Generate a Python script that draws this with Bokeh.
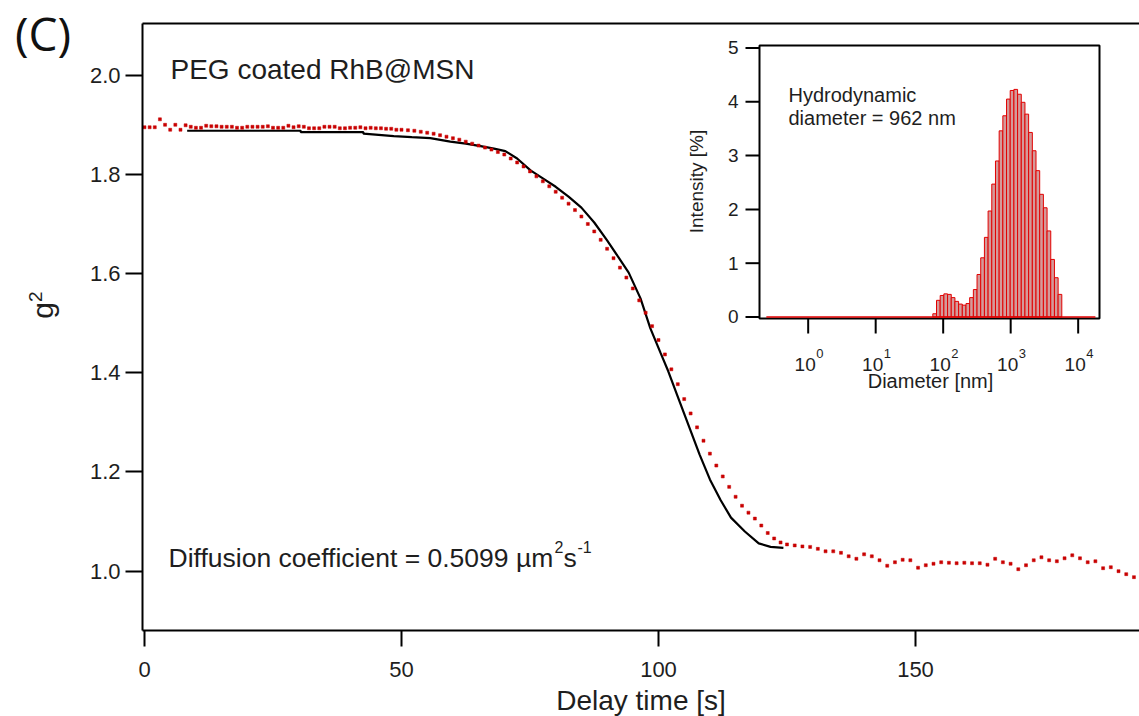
from math import pi, log10
from bokeh.plotting import figure
from bokeh.layouts import column
from bokeh.models import (Range1d, LinearAxis, FixedTicker, Label, PrintfTickFormatter,
                          LogScale, Div)
from bokeh.embed import file_html
from bokeh.resources import INLINE

# ---------------- main panel data: g2 vs delay time ----------------
delay_meas = [0, 1, 2, 3, 4, 5, 6, 7, 8, 9, 10, 11, 12, 13, 14, 15, 16, 17, 18, 19, 20,
              21, 22, 23, 24, 25, 26, 27, 28, 29, 30, 31, 32, 33, 34, 35, 36, 37, 38, 39, 40,
              41, 42, 43, 44, 45, 46, 47, 48, 49, 50,
              51.25, 52.5, 53.75, 55, 56.25, 57.5, 58.75, 60, 61.25, 62.5, 63.75, 65, 66.25,
              67.5, 68.75, 70, 71.25, 72.5, 73.75, 75, 76.25, 77.5, 78.75, 80, 81.25, 82.5,
              83.75, 85, 86.25, 87.5, 88.75, 90, 91.25, 92.5, 93.75, 95, 96.25, 97.5, 98.75,
              100, 101.25, 102.5, 103.75, 105, 106.25, 107.5, 108.75, 110, 111.25, 112.5,
              113.75, 115, 116.25, 117.5, 118.75, 120, 121.25, 122.5, 123.75, 125,
              126.5, 128, 129.5, 131, 132.5, 134, 135.5, 137, 138.5, 140, 141.5, 143, 144.5,
              146, 147.5, 149, 150.5, 152, 153.5, 155, 156.5, 158, 159.5, 161, 162.5, 164,
              165.5, 167, 168.5, 170, 171.5, 173, 174.5, 176, 177.5, 179, 180.5, 182, 183.5,
              185, 186.5, 188, 189.5, 191, 192.5]
g2_meas = [1.895, 1.895, 1.895, 1.911, 1.900, 1.890, 1.900, 1.890, 1.899, 1.896, 1.894,
           1.894, 1.898, 1.897, 1.897, 1.896, 1.896, 1.896, 1.894, 1.894, 1.896, 1.896,
           1.896, 1.896, 1.897, 1.894, 1.894, 1.894, 1.898, 1.895, 1.897, 1.896, 1.893,
           1.893, 1.893, 1.896, 1.896, 1.896, 1.893, 1.893, 1.894, 1.894, 1.895, 1.893,
           1.894, 1.893, 1.893, 1.892, 1.892, 1.890, 1.890,
           1.889, 1.888, 1.886, 1.884, 1.882, 1.879, 1.876, 1.873, 1.870, 1.866, 1.862,
           1.858, 1.854, 1.850, 1.845, 1.840, 1.832, 1.824, 1.816, 1.806, 1.796, 1.786,
           1.776, 1.765, 1.753, 1.741, 1.728, 1.715, 1.700, 1.685, 1.668, 1.650, 1.631,
           1.612, 1.592, 1.570, 1.546, 1.521, 1.494, 1.466, 1.437, 1.407, 1.377, 1.347,
           1.318, 1.290, 1.263, 1.237, 1.213, 1.191, 1.170, 1.150, 1.132, 1.118, 1.106,
           1.092, 1.077, 1.066, 1.058, 1.054,
           1.052, 1.050, 1.049, 1.045, 1.040, 1.040, 1.037, 1.030, 1.025, 1.034, 1.030,
           1.022, 1.011, 1.018, 1.023, 1.022, 1.007, 1.012, 1.015, 1.018, 1.017, 1.016,
           1.017, 1.016, 1.016, 1.013, 1.025, 1.018, 1.015, 1.004, 1.012, 1.022, 1.028,
           1.022, 1.020, 1.026, 1.032, 1.026, 1.018, 1.020, 1.006, 1.008, 1.000, 0.994,
           0.988]

delay_fit = [8.3, 30.4, 30.4, 42.6, 42.6, 48.5, 52.0, 55.6, 59.5, 62.5, 65.4, 68.0, 70.2,
             72.5, 75.1, 77.5, 80.0, 82.5, 85.0, 87.5, 90.0, 92.0, 94.2, 96.5, 98.4, 100.4,
             101.9, 104.0, 106.0, 108.0, 110.0, 112.1, 114.1, 116.8, 119.5, 121.8, 124.3]
g2_fit = [1.888, 1.888, 1.885, 1.885, 1.882, 1.877, 1.875, 1.873, 1.866, 1.862, 1.857,
          1.852, 1.847, 1.832, 1.808, 1.792, 1.775, 1.755, 1.733, 1.703, 1.667, 1.636,
          1.602, 1.550, 1.490, 1.440, 1.403, 1.345, 1.290, 1.235, 1.185, 1.143, 1.108,
          1.080, 1.056, 1.049, 1.047]

main_xticks = [0, 50, 100, 150]
main_yticks = [1.0, 1.2, 1.4, 1.6, 1.8, 2.0]

# ---------------- inset data: size distribution ----------------
diam_nm = [74.8, 84.8, 96.2, 109.0, 123.7, 140.2, 159.0, 180.3, 204.5, 231.9, 262.9,
           298.2, 338.1, 383.4, 434.8, 493.0, 559.1, 634.0, 718.9, 815.3, 924.5, 1048,
           1189, 1348, 1529, 1733, 1966, 2228, 2527, 2866, 3250, 3685, 4178, 4738, 5373]
intensity_pct = [0.06, 0.31, 0.40, 0.43, 0.42, 0.36, 0.29, 0.24, 0.22, 0.25, 0.36, 0.51,
                 0.79, 1.10, 1.48, 1.97, 2.47, 2.90, 3.46, 3.74, 4.05, 4.21, 4.23, 4.14,
                 3.99, 3.77, 3.43, 3.09, 2.72, 2.28, 2.03, 1.60, 1.07, 0.73, 0.42]
bin_log_width = 0.0546
size_span_nm = [0.24, 18000]          # measured size window (zero-intensity baseline)
inset_yticks = [0, 1, 2, 3, 4, 5]
inset_xticks = [1, 10, 100, 1000, 10000]
inset_xtick_exp = ["0", "1", "2", "3", "4"]
inset_xlim = (0.19, 20700)
inset_ylim = (-0.028, 5.046)

FONT = "Liberation Sans"
INK = "#1e1e1e"
RED_DOT = "#c80000"
BAR_LINE = "#e20000"
BAR_FILL = "#d49a9a"

# ---------------- layout (canvas pixels) ----------------
W, H = 1139, 716
FR_L, FR_R, FR_T, FR_B = 142, 1139, 23, 630      # main frame
IN_L, IN_R, IN_T, IN_B = 759, 1099, 45, 318      # inset box

# inset ranges expressed over the whole main frame
lx0, lx1 = log10(inset_xlim[0]), log10(inset_xlim[1])
dpp = (lx1 - lx0) / (IN_R - IN_L)                  # decades per pixel
ex_start = 10 ** (lx0 - (IN_L - FR_L) * dpp)
ex_end = 10 ** (lx1 + (FR_R - IN_R) * dpp)
upp = (inset_ylim[1] - inset_ylim[0]) / (IN_B - IN_T)  # units per pixel
ey_start = inset_ylim[0] - (FR_B - IN_B) * upp
ey_end = inset_ylim[1] + (IN_T - FR_T) * upp

p = figure(frame_width=FR_R - FR_L, frame_height=FR_B - FR_T,
           min_border_left=FR_L, min_border_right=W - FR_R,
           min_border_top=FR_T, min_border_bottom=H - FR_B,
           x_range=Range1d(-0.389, 193.58), y_range=Range1d(0.8804, 2.1042),
           x_axis_type=None, y_axis_type=None,
           output_backend="svg", toolbar_location=None)
p.outline_line_color = None
p.background_fill_color = "white"
p.border_fill_color = "white"
p.extra_x_ranges = {"ix": Range1d(ex_start, ex_end)}
p.extra_x_scales = {"ix": LogScale()}
p.extra_y_ranges = {"iy": Range1d(ey_start, ey_end)}


def style_axis(ax, tick_out, standoff, size):
    ax.axis_line_width = 2
    ax.axis_line_color = "black"
    ax.major_tick_line_width = 2
    ax.major_tick_line_color = "black"
    ax.major_tick_out = tick_out
    ax.major_tick_in = 0
    ax.minor_tick_line_color = None
    ax.major_label_text_font = FONT
    ax.major_label_text_font_size = size
    ax.major_label_text_color = INK
    ax.major_label_standoff = standoff
    ax.axis_label_text_font = FONT
    ax.axis_label_text_font_style = "normal"
    ax.axis_label_text_color = INK


xax = LinearAxis(ticker=FixedTicker(ticks=main_xticks), formatter=PrintfTickFormatter(format="%d"))
style_axis(xax, 16, 15, "22px")
xax.axis_label = "Delay time [s]"
xax.axis_label_text_font_size = "28px"
xax.axis_label_standoff = 5
p.add_layout(xax, "below")

yax = LinearAxis(ticker=FixedTicker(ticks=main_yticks), formatter=PrintfTickFormatter(format="%.1f"))
style_axis(yax, 17, 5, "22px")
p.add_layout(yax, "left")

top = LinearAxis(ticker=FixedTicker(ticks=[]))
top.axis_line_width = 2
top.major_tick_out = 0
top.major_tick_in = 0
top.minor_tick_line_color = None
top.major_label_standoff = 0
top.major_label_text_font_size = "1px"
p.add_layout(top, "above")

# main curves
p.line(delay_fit, g2_fit, line_color="black", line_width=2.2)
p.scatter(delay_meas, g2_meas, marker="square", size=3, fill_color=RED_DOT,
          line_color=RED_DOT, line_width=0.5)


def lab(x, y, text, size, align="left", baseline="alphabetic", angle=0.0,
        xu="screen", yu="screen", xo=0, xr="default", yr="default"):
    p.add_layout(Label(x=x, y=y, x_units=xu, y_units=yu, text=text, text_font=FONT,
                       text_font_size=size, text_align=align, text_baseline=baseline,
                       angle=angle, x_offset=xo, text_color=INK,
                       x_range_name=xr, y_range_name=yr))


# texts inside the main frame (screen units measured from frame left / bottom)
lab(28, 561, "PEG coated RhB@MSN", "28px")
lab(26, 73, "Diffusion coefficient = 0.5099 µm", "26.5px")
lab(412, 84, "2", "16px")
lab(421, 73, "s", "26.5px")
lab(435, 84, "-1", "16px")

# ---------------- inset (drawn through its own named ranges) ----------------
IR = dict(x_range_name="ix", y_range_name="iy")
p.quad(left=[inset_xlim[0]], right=[inset_xlim[1]], bottom=[inset_ylim[0]],
       top=[inset_ylim[1]], fill_color="white", line_color="black", line_width=2, **IR)
half = 10 ** (bin_log_width / 2)
p.quad(left=[d / half for d in diam_nm], right=[d * half for d in diam_nm],
       bottom=0, top=intensity_pct, fill_color=BAR_FILL, line_color=BAR_LINE,
       line_width=1, **IR)
p.line(size_span_nm, [0, 0], line_color=BAR_LINE, line_width=1.5, **IR)

# inset axis ticks
ytick_len = 14 * dpp
p.segment(x0=[inset_xlim[0]] * len(inset_yticks),
          x1=[inset_xlim[0] / 10 ** ytick_len] * len(inset_yticks),
          y0=inset_yticks, y1=inset_yticks, line_color="black", line_width=2, **IR)
p.segment(x0=inset_xticks, x1=inset_xticks,
          y0=[inset_ylim[0]] * len(inset_xticks),
          y1=[inset_ylim[0] - 15 * upp] * len(inset_xticks),
          line_color="black", line_width=2, **IR)

for t in inset_yticks:
    lab(IN_L - 21 - FR_L, t, str(t), "19px", align="right", baseline="middle",
        yu="data", yr="iy")
for t, e in zip(inset_xticks, inset_xtick_exp):
    lab(t, FR_B - 364, "10", "19px", align="center", xu="data", xr="ix", xo=-3)
    lab(t, FR_B - 353, e, "13px", align="left", xu="data", xr="ix", xo=8)

lab(788 - FR_L, FR_B - 94, "Hydrodynamic", "20px")
lab(788 - FR_L, FR_B - 117, "diameter = 962 nm", "20px")
lab(696 - FR_L, FR_B - 181, "Intensity [%]", "19px", align="center", baseline="middle",
    angle=pi / 2)
lab(930 - FR_L, FR_B - 380, "Diameter [nm]", "20px", align="center")

# texts outside the frame: panel letter and y-axis title
panel_tag = Div(text="(C)", width=80, height=56, margin=0,
                styles={"position": "absolute", "left": "15px", "top": "10px",
                        "font-family": "Open Sans", "font-size": "46px",
                        "line-height": "1", "color": "#111111", "z-index": "5"})
y_title = Div(text="g<sup style='font-size:19px'>2</sup>", width=60, height=40, margin=0,
              styles={"position": "absolute", "left": "6px", "top": "285px",
                      "font-family": FONT, "font-size": "30px", "line-height": "40px",
                      "text-align": "center", "color": INK, "z-index": "5",
                      "transform": "rotate(-90deg)", "transform-origin": "50% 50%"})

layout = column(p, panel_tag, y_title, spacing=0, margin=0)
open("out.html", "w").write(file_html(layout, INLINE))
